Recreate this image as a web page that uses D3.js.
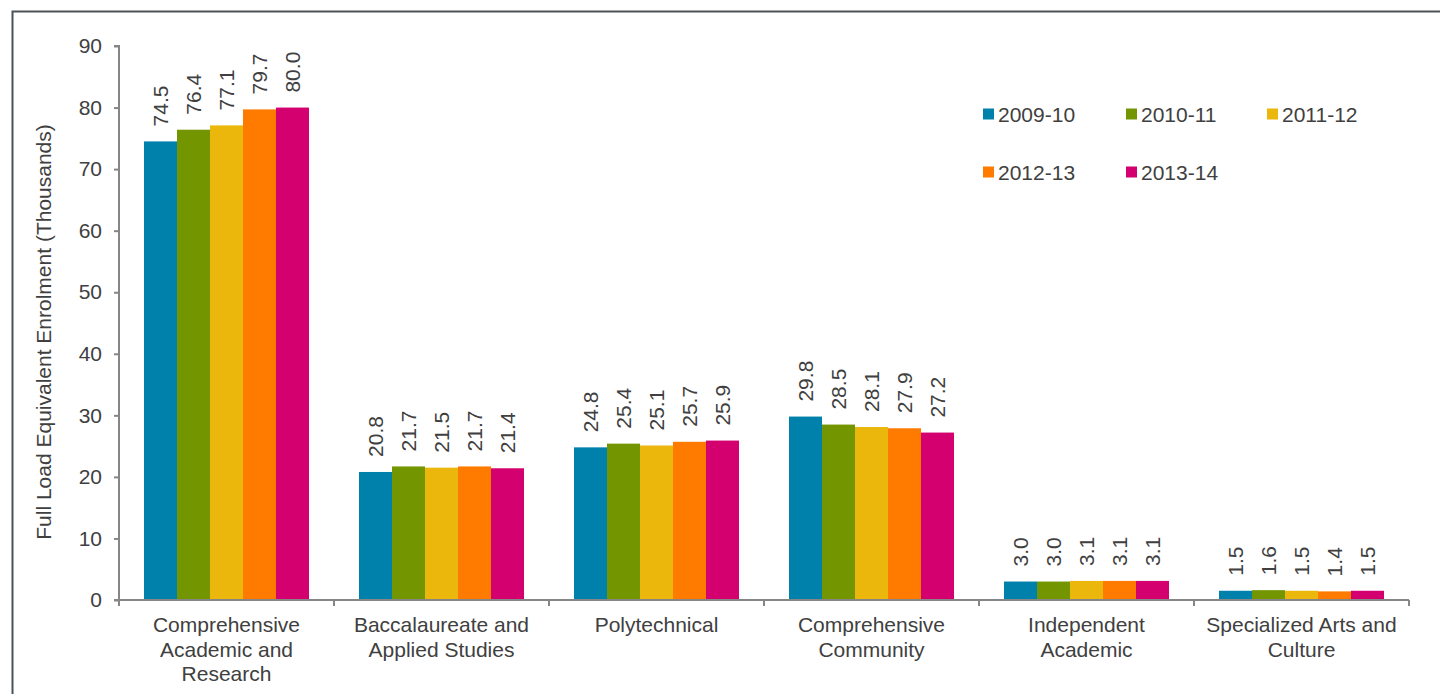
<!DOCTYPE html>
<html>
<head>
<meta charset="utf-8">
<script src="https://cdn.jsdelivr.net/npm/d3@7"></script>
<style>
  body { margin: 0; background: #fff; }
  text { font-family: "Liberation Sans", Arial, sans-serif; fill: #404040; }
</style>
</head>
<body>
<script>
// data
var categories = [
  ["Comprehensive", "Academic and", "Research"],
  ["Baccalaureate and", "Applied Studies"],
  ["Polytechnical"],
  ["Comprehensive", "Community"],
  ["Independent", "Academic"],
  ["Specialized Arts and", "Culture"]
];
var years = ["2009-10", "2010-11", "2011-12", "2012-13", "2013-14"];
var colors = ["#0081AB", "#739600", "#EBB70C", "#FF7B00", "#D5006F"];
var v2009 = [74.5, 20.8, 24.8, 29.8, 3.0, 1.5];
var v2010 = [76.4, 21.7, 25.4, 28.5, 3.0, 1.6];
var v2011 = [77.1, 21.5, 25.1, 28.1, 3.1, 1.5];
var v2012 = [79.7, 21.7, 25.7, 27.9, 3.1, 1.4];
var v2013 = [80.0, 21.4, 25.9, 27.2, 3.1, 1.5];
var series = [v2009, v2010, v2011, v2012, v2013];
var yTicks = [0, 10, 20, 30, 40, 50, 60, 70, 80, 90];

var fs = 21;

var svg = d3.select("body").append("svg")
  .attr("width", 1440)
  .attr("height", 694);

// outer frame (right and bottom run off the page)
svg.append("path")
  .attr("d", "M12.5,700 V11.5 H1450")
  .attr("fill", "none")
  .attr("stroke", "#4a5257")
  .attr("stroke-width", 2);

var x0 = d3.scaleBand().domain(d3.range(categories.length)).range([119, 1409]).padding(0);
var x1 = d3.scaleBand().domain(d3.range(years.length)).range([25, x0.bandwidth() - 25]).padding(0);
var y = d3.scaleLinear().domain([0, 90]).range([600, 46]);

// bars
var groups = svg.selectAll("g.grp")
  .data(categories)
  .enter().append("g")
  .attr("class", "grp")
  .attr("transform", function(d, i) { return "translate(" + x0(i) + ",0)"; });

groups.each(function(d, ci) {
  var g = d3.select(this);
  series.forEach(function(s, si) {
    g.append("rect")
      .attr("x", x1(si))
      .attr("y", y(s[ci]))
      .attr("width", x1.bandwidth())
      .attr("height", y(0) - y(s[ci]))
      .attr("fill", colors[si]);
    var lx = x1(si) + x1.bandwidth() / 2 + 7.5;
    var ly = y(s[ci]) - 15;
    g.append("text")
      .attr("transform", "translate(" + lx + "," + ly + ") rotate(-90)")
      .attr("text-anchor", "start")
      .attr("font-size", fs)
      .text(s[ci].toFixed(1));
  });
});

// y axis
var yAxis = svg.append("g")
  .attr("transform", "translate(119,0)")
  .call(d3.axisLeft(y).tickValues(yTicks).tickSize(5).tickPadding(12));
yAxis.selectAll("text").attr("font-size", fs).attr("font-family", "Liberation Sans, Arial, sans-serif").attr("fill", "#404040");
yAxis.selectAll("line, path").attr("stroke", "#868686").attr("stroke-width", 2);
yAxis.select(".domain").attr("d", "M-5,46H0V600H-5");

// x axis
var xa = svg.append("g");
xa.append("line")
  .attr("x1", 119).attr("x2", 1409)
  .attr("y1", 600).attr("y2", 600)
  .attr("stroke", "#868686").attr("stroke-width", 2);
xa.selectAll("line.tk")
  .data(d3.range(categories.length + 1))
  .enter().append("line")
  .attr("x1", function(i) { return 119 + i * x0.bandwidth(); })
  .attr("x2", function(i) { return 119 + i * x0.bandwidth(); })
  .attr("y1", 600).attr("y2", 606)
  .attr("stroke", "#868686").attr("stroke-width", 2);

categories.forEach(function(lines, i) {
  var t = svg.append("text")
    .attr("text-anchor", "middle")
    .attr("font-size", fs)
    .attr("x", x0(i) + x0.bandwidth() / 2)
    .attr("y", 632);
  lines.forEach(function(l, j) {
    t.append("tspan")
      .attr("x", x0(i) + x0.bandwidth() / 2)
      .attr("dy", j === 0 ? 0 : 24.5)
      .text(l);
  });
});

// y axis title
svg.append("text")
  .attr("transform", "translate(51,332) rotate(-90)")
  .attr("text-anchor", "middle")
  .attr("font-size", fs)
  .text("Full Load Equivalent Enrolment (Thousands)");

// legend
var legX = [983, 1126, 1267];
var legY = [114, 172];
years.forEach(function(yr, i) {
  var lx = legX[i % 3], ly = legY[Math.floor(i / 3)];
  svg.append("rect")
    .attr("x", lx).attr("y", ly - 5.5)
    .attr("width", 11).attr("height", 11)
    .attr("fill", colors[i]);
  svg.append("text")
    .attr("x", lx + 15).attr("y", ly + 7.5)
    .attr("font-size", fs)
    .text(yr);
});
</script>
</body>
</html>
